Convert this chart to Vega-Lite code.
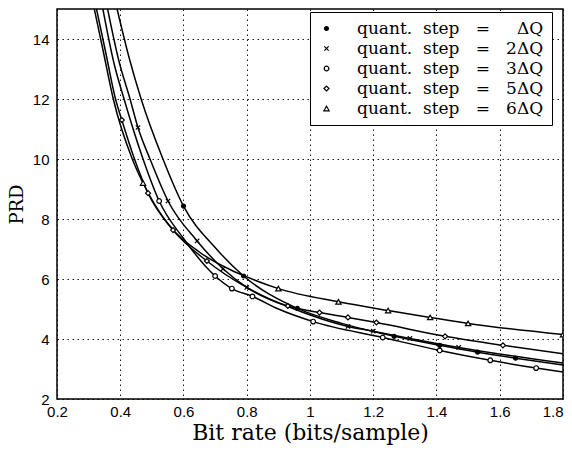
{
  "$schema": "https://vega.github.io/schema/vega-lite/v6.json",
  "width": 506,
  "height": 390,
  "autosize": "none",
  "padding": {"left": 57, "top": 9, "right": 9, "bottom": 53},
  "background": "white",
  "config": {
    "view": {"stroke": "black", "strokeWidth": 1.5},
    "axis": {
      "grid": true, "gridColor": "black", "gridDash": [1.5, 3.5], "gridWidth": 1, "gridOpacity": 0.9,
      "domain": false, "ticks": false,
      "labelFont": "Liberation Sans", "labelFontSize": 15, "labelColor": "black",
      "labelFlush": false, "labelOverlap": false,
      "titleFont": "DejaVu Serif", "titleFontWeight": "normal", "titleColor": "black"
    },
    "legend": {
      "strokeColor": "black", "fillColor": "white", "padding": 8,
      "labelFont": "DejaVu Serif", "labelFontSize": 17, "labelColor": "black",
      "symbolStrokeColor": "black", "symbolStrokeWidth": 1.2,
      "rowPadding": 2, "labelOffset": 22, "labelLimit": 400
    }
  },
  "data": {
    "values": [
      {"s": "1", "x": 0.39, "y": 15, "m": 0},
      {"s": "1", "x": 0.43, "y": 13.3, "m": 0},
      {"s": "1", "x": 0.466, "y": 12, "m": 0},
      {"s": "1", "x": 0.535, "y": 10, "m": 0},
      {"s": "1", "x": 0.6, "y": 8.43, "m": 1},
      {"s": "1", "x": 0.7, "y": 7.05, "m": 0},
      {"s": "1", "x": 0.79, "y": 6.1, "m": 1},
      {"s": "1", "x": 0.96, "y": 5.02, "m": 1},
      {"s": "1", "x": 1.1, "y": 4.52, "m": 0},
      {"s": "1", "x": 1.266, "y": 4.09, "m": 1},
      {"s": "1", "x": 1.41, "y": 3.79, "m": 1},
      {"s": "1", "x": 1.53, "y": 3.56, "m": 1},
      {"s": "1", "x": 1.65, "y": 3.36, "m": 1},
      {"s": "1", "x": 1.8, "y": 3.13, "m": 0},

      {"s": "2", "x": 0.36, "y": 15, "m": 0},
      {"s": "2", "x": 0.395, "y": 13.3, "m": 0},
      {"s": "2", "x": 0.431, "y": 12, "m": 0},
      {"s": "2", "x": 0.456, "y": 11.05, "m": 1},
      {"s": "2", "x": 0.494, "y": 10, "m": 0},
      {"s": "2", "x": 0.551, "y": 8.6, "m": 1},
      {"s": "2", "x": 0.643, "y": 7.27, "m": 1},
      {"s": "2", "x": 0.725, "y": 6.34, "m": 1},
      {"s": "2", "x": 0.8, "y": 5.72, "m": 1},
      {"s": "2", "x": 0.95, "y": 5.0, "m": 0},
      {"s": "2", "x": 1.12, "y": 4.42, "m": 1},
      {"s": "2", "x": 1.2, "y": 4.26, "m": 1},
      {"s": "2", "x": 1.316, "y": 4.02, "m": 1},
      {"s": "2", "x": 1.47, "y": 3.72, "m": 1},
      {"s": "2", "x": 1.8, "y": 3.2, "m": 0},

      {"s": "3", "x": 0.345, "y": 15, "m": 0},
      {"s": "3", "x": 0.38, "y": 13.2, "m": 0},
      {"s": "3", "x": 0.412, "y": 12, "m": 0},
      {"s": "3", "x": 0.472, "y": 10, "m": 0},
      {"s": "3", "x": 0.523, "y": 8.6, "m": 1},
      {"s": "3", "x": 0.6, "y": 7.35, "m": 0},
      {"s": "3", "x": 0.7, "y": 6.1, "m": 1},
      {"s": "3", "x": 0.753, "y": 5.68, "m": 1},
      {"s": "3", "x": 0.818, "y": 5.42, "m": 1},
      {"s": "3", "x": 0.9, "y": 5.0, "m": 0},
      {"s": "3", "x": 1.01, "y": 4.58, "m": 1},
      {"s": "3", "x": 1.23, "y": 4.05, "m": 1},
      {"s": "3", "x": 1.41, "y": 3.62, "m": 1},
      {"s": "3", "x": 1.57, "y": 3.29, "m": 1},
      {"s": "3", "x": 1.715, "y": 3.03, "m": 1},
      {"s": "3", "x": 1.8, "y": 2.9, "m": 0},

      {"s": "5", "x": 0.325, "y": 15, "m": 0},
      {"s": "5", "x": 0.355, "y": 13.5, "m": 0},
      {"s": "5", "x": 0.385, "y": 12, "m": 0},
      {"s": "5", "x": 0.405, "y": 11.3, "m": 1},
      {"s": "5", "x": 0.445, "y": 10, "m": 0},
      {"s": "5", "x": 0.488, "y": 8.86, "m": 1},
      {"s": "5", "x": 0.567, "y": 7.63, "m": 1},
      {"s": "5", "x": 0.674, "y": 6.6, "m": 1},
      {"s": "5", "x": 0.8, "y": 5.72, "m": 0},
      {"s": "5", "x": 0.93, "y": 5.1, "m": 1},
      {"s": "5", "x": 1.03, "y": 4.88, "m": 1},
      {"s": "5", "x": 1.12, "y": 4.72, "m": 1},
      {"s": "5", "x": 1.21, "y": 4.55, "m": 1},
      {"s": "5", "x": 1.427, "y": 4.09, "m": 1},
      {"s": "5", "x": 1.61, "y": 3.79, "m": 1},
      {"s": "5", "x": 1.8, "y": 3.51, "m": 0},

      {"s": "6", "x": 0.318, "y": 15, "m": 0},
      {"s": "6", "x": 0.348, "y": 13.5, "m": 0},
      {"s": "6", "x": 0.378, "y": 12, "m": 0},
      {"s": "6", "x": 0.438, "y": 10, "m": 0},
      {"s": "6", "x": 0.472, "y": 9.2, "m": 1},
      {"s": "6", "x": 0.55, "y": 7.85, "m": 0},
      {"s": "6", "x": 0.65, "y": 6.9, "m": 0},
      {"s": "6", "x": 0.75, "y": 6.3, "m": 0},
      {"s": "6", "x": 0.8, "y": 6.07, "m": 0},
      {"s": "6", "x": 0.9, "y": 5.68, "m": 1},
      {"s": "6", "x": 1.09, "y": 5.24, "m": 1},
      {"s": "6", "x": 1.247, "y": 4.95, "m": 1},
      {"s": "6", "x": 1.38, "y": 4.72, "m": 1},
      {"s": "6", "x": 1.5, "y": 4.52, "m": 1},
      {"s": "6", "x": 1.8, "y": 4.15, "m": 1}
    ]
  },
  "encoding": {
    "x": {
      "field": "x", "type": "quantitative",
      "scale": {"domain": [0.2, 1.8], "nice": false, "zero": false},
      "axis": {
        "values": [0.2, 0.4, 0.6, 0.8, 1, 1.2, 1.4, 1.6, 1.8], "format": ".1~f",
        "title": "Bit rate (bits/sample)", "titleFontSize": 22, "labelPadding": 5, "titlePadding": 3,
        "labelAlign": {"condition": {"test": "datum.value > 1.75", "value": "right"}, "value": "center"}
      }
    },
    "y": {
      "field": "y", "type": "quantitative",
      "scale": {"domain": [2, 15], "nice": false, "zero": false},
      "axis": {"values": [2, 4, 6, 8, 10, 12, 14], "title": "PRD", "titleFontSize": 18, "labelPadding": 8, "titlePadding": 6}
    }
  },
  "layer": [
    {
      "mark": {"type": "line", "interpolate": "monotone", "color": "black", "strokeWidth": 1.5, "clip": true},
      "encoding": {"detail": {"field": "s", "type": "nominal"}}
    },
    {
      "transform": [{"filter": "datum.m == 1"}],
      "mark": {"type": "point", "strokeWidth": 1.2, "opacity": 1, "clip": true},
      "encoding": {
        "shape": {
          "field": "s", "type": "nominal",
          "scale": {"domain": ["1", "2", "3", "5", "6"], "range": ["circle", "M-1,-1L1,1M-1,1L1,-1", "circle", "diamond", "triangle-up"]},
          "legend": {"title": null, "orient": "none", "legendX": 253, "legendY": 3, "labelExpr": "'quant.\u00a0\u00a0step\u00a0\u00a0\u00a0=\u00a0\u00a0\u00a0' + (datum.label == '1' ? '\u00a0\u00a0' : datum.label) + 'ΔQ'"}
        },
        "fill": {
          "field": "s", "type": "nominal",
          "scale": {"domain": ["1", "2", "3", "5", "6"], "range": ["black", "white", "white", "white", "white"]},
          "legend": {"title": null, "orient": "none", "legendX": 253, "legendY": 3, "labelExpr": "'quant.\u00a0\u00a0step\u00a0\u00a0\u00a0=\u00a0\u00a0\u00a0' + (datum.label == '1' ? '\u00a0\u00a0' : datum.label) + 'ΔQ'"}
        },
        "stroke": {
          "field": "s", "type": "nominal",
          "scale": {"domain": ["1", "2", "3", "5", "6"], "range": ["black", "black", "black", "black", "black"]},
          "legend": {"title": null, "orient": "none", "legendX": 253, "legendY": 3, "labelExpr": "'quant.\u00a0\u00a0step\u00a0\u00a0\u00a0=\u00a0\u00a0\u00a0' + (datum.label == '1' ? '\u00a0\u00a0' : datum.label) + 'ΔQ'"}
        },
        "size": {
          "field": "s", "type": "nominal",
          "scale": {"domain": ["1", "2", "3", "5", "6"], "range": [16, 28, 30, 30, 36]},
          "legend": {"title": null, "orient": "none", "legendX": 253, "legendY": 3, "labelExpr": "'quant.\u00a0\u00a0step\u00a0\u00a0\u00a0=\u00a0\u00a0\u00a0' + (datum.label == '1' ? '\u00a0\u00a0' : datum.label) + 'ΔQ'"}
        }
      }
    }
  ]
}
